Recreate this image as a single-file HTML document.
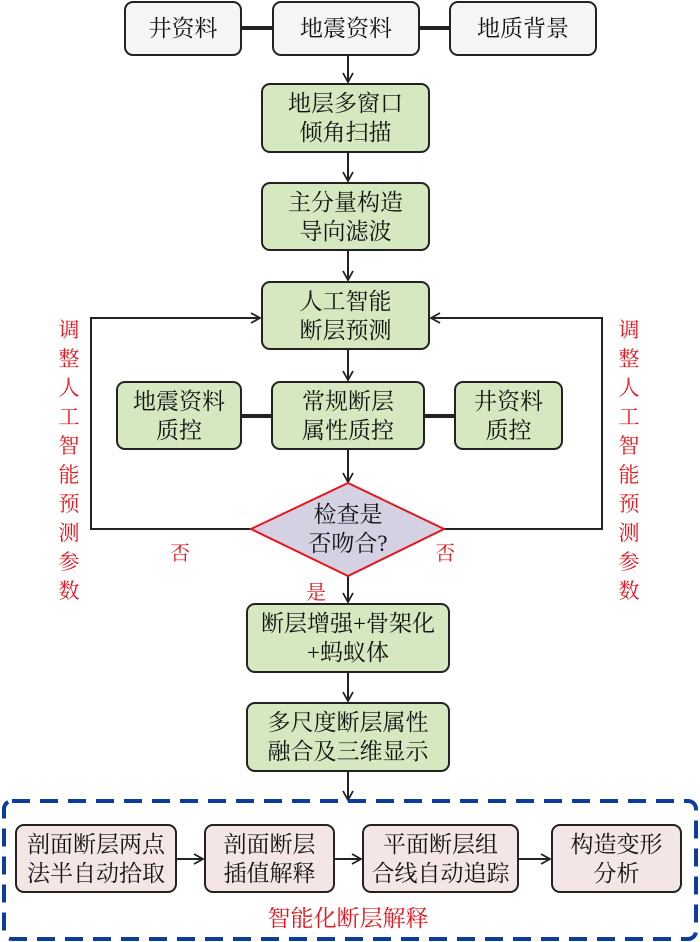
<!DOCTYPE html>
<html><head><meta charset="utf-8"><style>
body{margin:0;width:700px;height:942px;background:#fff;position:relative;overflow:hidden;font-family:"Liberation Serif","Noto Serif CJK SC",serif;}
.b{position:absolute;box-sizing:border-box;border:2px solid #222;border-radius:9px;display:flex;align-items:center;justify-content:center;text-align:center;font-size:23px;line-height:29px;color:#111;}
.g{background:#d5e8bf;}
.w{background:#f5f5f5;}
.p{background:#f4e6e4;}
.r{position:absolute;color:#e8141e;font-size:20px;}
.v{position:absolute;color:#e8141e;font-size:21px;line-height:29px;width:24px;text-align:center;}
</style></head><body>
<svg width="700" height="942" style="position:absolute;left:0;top:0">
<defs><marker id="a" markerWidth="12" markerHeight="12" refX="10" refY="6" orient="auto" markerUnits="userSpaceOnUse"><path d="M1,1 L10,6 L1,11" fill="none" stroke="#222" stroke-width="1.8"/></marker></defs>
<g stroke="#222" stroke-width="2" fill="none">
<line x1="242" y1="28" x2="272" y2="28" stroke-width="4"/>
<line x1="420" y1="28" x2="449" y2="28" stroke-width="4"/>
<line x1="348" y1="56" x2="348" y2="82" marker-end="url(#a)"/>
<line x1="348" y1="153" x2="348" y2="181" marker-end="url(#a)"/>
<line x1="348" y1="251" x2="348" y2="280" marker-end="url(#a)"/>
<line x1="348" y1="350" x2="348" y2="380" marker-end="url(#a)"/>
<line x1="242" y1="416" x2="271" y2="416" stroke-width="4"/>
<line x1="425" y1="416" x2="454" y2="416" stroke-width="4"/>
<line x1="348" y1="450" x2="348" y2="482" marker-end="url(#a)"/>
<line x1="348" y1="576" x2="348" y2="602" marker-end="url(#a)"/>
<line x1="348" y1="673" x2="348" y2="701" marker-end="url(#a)"/>
<line x1="348" y1="772" x2="348" y2="800" marker-end="url(#a)"/>
<polyline points="251,529 91,529 91,318 260,318" marker-end="url(#a)"/>
<polyline points="444,529 602,529 602,318 431,318" marker-end="url(#a)"/>
<line x1="177" y1="859" x2="203" y2="859" marker-end="url(#a)"/>
<line x1="335" y1="859" x2="361" y2="859" marker-end="url(#a)"/>
<line x1="519" y1="859" x2="550" y2="859" marker-end="url(#a)"/>
</g>
<polygon points="348,483 444,529 348,576 251,529" fill="#d3d1e2" stroke="#e8141e" stroke-width="2"/>
<rect x="4" y="801" width="692" height="138" rx="8" fill="none" stroke="#0c3c9c" stroke-width="4" stroke-dasharray="18,10"/>
</svg>
<div class="b w" style="left:124px;top:1px;width:118px;height:55px">井资料</div>
<div class="b w" style="left:272px;top:1px;width:148px;height:55px">地震资料</div>
<div class="b w" style="left:449px;top:1px;width:148px;height:55px">地质背景</div>
<div class="b g" style="left:261px;top:83px;width:169px;height:70px">地层多窗口<br>倾角扫描</div>
<div class="b g" style="left:261px;top:182px;width:169px;height:69px">主分量构造<br>导向滤波</div>
<div class="b g" style="left:261px;top:281px;width:169px;height:69px">人工智能<br>断层预测</div>
<div class="b g" style="left:116px;top:381px;width:126px;height:69px">地震资料<br>质控</div>
<div class="b g" style="left:271px;top:381px;width:154px;height:69px">常规断层<br>属性质控</div>
<div class="b g" style="left:454px;top:381px;width:109px;height:69px">井资料<br>质控</div>
<div style="position:absolute;left:290px;top:500px;width:116px;text-align:center;font-size:23px;line-height:29px;color:#111">检查是<br>否吻合?</div>
<div class="r" style="left:170px;top:537px">否</div>
<div class="r" style="left:435px;top:537px">否</div>
<div class="r" style="left:306px;top:576px">是</div>
<div class="b g" style="left:246px;top:603px;width:204px;height:70px">断层增强+骨架化<br>+蚂蚁体</div>
<div class="b g" style="left:246px;top:702px;width:204px;height:70px">多尺度断层属性<br>融合及三维显示</div>
<div class="v" style="left:57px;top:316px">调整人工智能预测参数</div>
<div class="v" style="left:617px;top:316px">调整人工智能预测参数</div>
<div class="b p" style="left:15px;top:824px;width:162px;height:69px">剖面断层两点<br>法半自动拾取</div>
<div class="b p" style="left:204px;top:824px;width:131px;height:69px">剖面断层<br>插值解释</div>
<div class="b p" style="left:362px;top:824px;width:157px;height:69px">平面断层组<br>合线自动追踪</div>
<div class="b p" style="left:551px;top:824px;width:131px;height:69px">构造变形<br>分析</div>
<div class="r" style="left:248px;top:900px;width:200px;text-align:center;font-size:23px">智能化断层解释</div>
</body></html>
